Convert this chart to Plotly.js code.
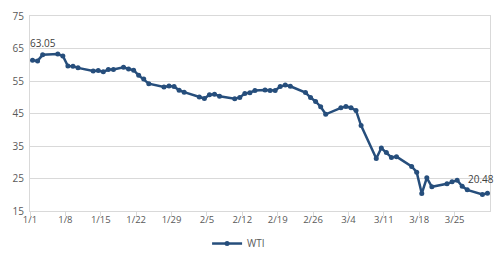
<!DOCTYPE html>
<html>
<head>
<meta charset="utf-8">
<script src="https://cdn.plot.ly/plotly-3.0.1.min.js"></script>
<style>html,body{margin:0;padding:0;background:#fff;}#chart{width:499px;height:255px;}</style>
</head>
<body>
<div id="chart"></div>
<script>
const seriesName = 'WTI';
const dates = [
 '2020-01-01','2020-01-02','2020-01-03','2020-01-06','2020-01-07','2020-01-08','2020-01-09','2020-01-10',
 '2020-01-13','2020-01-14','2020-01-15','2020-01-16','2020-01-17','2020-01-19','2020-01-20','2020-01-21',
 '2020-01-22','2020-01-23','2020-01-24','2020-01-27','2020-01-28','2020-01-29','2020-01-30','2020-01-31',
 '2020-02-03','2020-02-04','2020-02-05','2020-02-06','2020-02-07','2020-02-10','2020-02-11','2020-02-12',
 '2020-02-13','2020-02-14','2020-02-16','2020-02-17','2020-02-18','2020-02-19','2020-02-20','2020-02-21',
 '2020-02-24','2020-02-25','2020-02-26','2020-02-27','2020-02-28','2020-03-02','2020-03-03','2020-03-04',
 '2020-03-05','2020-03-06','2020-03-09','2020-03-10','2020-03-11','2020-03-12','2020-03-13','2020-03-16',
 '2020-03-17','2020-03-18','2020-03-19','2020-03-20','2020-03-23','2020-03-24','2020-03-25','2020-03-26',
 '2020-03-27','2020-03-30','2020-03-31'
];
const values = [
 61.4, 61.18, 63.05, 63.27, 62.70, 59.61, 59.56, 59.04,
 58.08, 58.23, 57.81, 58.52, 58.54, 59.2, 58.7, 58.34,
 56.74, 55.59, 54.19, 53.14, 53.48, 53.33, 52.14, 51.56,
 50.11, 49.61, 50.75, 50.95, 50.32, 49.57, 49.94, 51.17,
 51.42, 52.05, 52.2, 52.1, 52.05, 53.29, 53.78, 53.38,
 51.43, 49.90, 48.73, 47.09, 44.76, 46.75, 47.18, 46.78,
 45.90, 41.28, 31.13, 34.36, 32.98, 31.50, 31.73, 28.70,
 26.95, 20.37, 25.22, 22.43, 23.36, 24.01, 24.49, 22.60,
 21.51, 20.09, 20.48
];
const xTickDates = ['2020-01-01','2020-01-08','2020-01-15','2020-01-22','2020-01-29','2020-02-05',
                    '2020-02-12','2020-02-19','2020-02-26','2020-03-04','2020-03-11','2020-03-18','2020-03-25'];
const xTickLabels = ['1/1','1/8','1/15','1/22','1/29','2/5','2/12','2/19','2/26','3/4','3/11','3/18','3/25'];
const yTicks = [15, 25, 35, 45, 55, 65, 75];
const labelIdx = [2, values.length - 1];

const xs = dates.map(d => d + ' 12:00');
const color = '#264E7C';
const fontFam = '"Open Sans", "Liberation Sans", sans-serif';

const trace = {
  x: xs, y: values, type: 'scatter', mode: 'lines+markers', name: seriesName,
  line: {color: color, width: 2.5},
  marker: {color: color, size: 5, symbol: 'circle'}
};

const annotations = labelIdx.map((i, k) => ({
  x: xs[i], y: values[i], text: values[i].toFixed(2), showarrow: false,
  xanchor: 'center', yanchor: 'middle',
  xshift: k === 0 ? 0 : -6, yshift: k === 0 ? 12 : 14,
  font: {family: fontFam, size: 10, color: '#404040'}
}));

const layout = {
  width: 499, height: 255,
  margin: {l: 30, r: 9, t: 16, b: 44},
  paper_bgcolor: '#fff', plot_bgcolor: '#fff',
  showlegend: true,
  legend: {orientation: 'h', xref: 'container', yref: 'container',
           x: 0.415, xanchor: 'left', y: 0.045, yanchor: 'middle',
           font: {family: fontFam, size: 10, color: '#595959'}},
  xaxis: {
    type: 'date', range: ['2020-01-01', '2020-04-01'],
    tickvals: xTickDates, ticktext: xTickLabels,
    showgrid: false, showline: true, linecolor: '#D9D9D9', linewidth: 1, mirror: true,
    ticks: 'outside', ticklen: 4, tickcolor: '#D9D9D9', ticklabelstandoff: -4,
    tickfont: {family: fontFam, size: 9.5, color: '#595959'}, zeroline: false
  },
  yaxis: {
    range: [15, 75], tickvals: yTicks, ticktext: yTicks.map(String),
    showgrid: true, gridcolor: '#D9D9D9', gridwidth: 1,
    showline: true, linecolor: '#D9D9D9', mirror: true,
    ticks: '', zeroline: false, ticklabelstandoff: 3,
    tickfont: {family: fontFam, size: 10, color: '#595959'}
  },
  annotations: annotations
};

Plotly.newPlot('chart', [trace], layout, {displayModeBar: false, staticPlot: true});
</script>
</body>
</html>
